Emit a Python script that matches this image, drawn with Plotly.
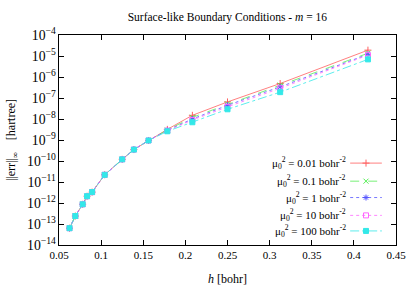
import plotly.graph_objects as go

h = [0.4167, 0.3125, 0.25, 0.2083, 0.1786, 0.1563, 0.1389, 0.125, 0.1042,
     0.0893, 0.0833, 0.0781, 0.0694, 0.0625]
common_tail = [9.5e-10, 3.5e-10, 1.2e-10, 2.2e-11, 3.3e-12, 2.1e-12, 8.7e-13, 2.4e-13, 6.3e-14]

err_001 = [1.9e-5, 4.9e-7, 6.5e-8, 1.5e-8, 3.2e-9] + common_tail
err_01 = [1.35e-5, 4.1e-7, 5.3e-8, 1.2e-8, 3.0e-9] + common_tail
err_1 = [1.2e-5, 3.4e-7, 4.5e-8, 1.0e-8, 2.9e-9] + common_tail
err_10 = [1.1e-5, 2.9e-7, 3.8e-8, 9.0e-9, 2.8e-9] + common_tail
err_100 = [6.9e-6, 1.9e-7, 2.9e-8, 7.0e-9, 2.6e-9] + common_tail

labels = ["0.01", "0.1", "1", "10", "100"]
series = [err_001, err_01, err_1, err_10, err_100]
colors = ["#ff6060", "#55ee55", "#5555ff", "#ff66ff", "#33e8e8"]
dashes = ["solid", "dash", "dot", "dot", "dashdot"]
symbols = ["cross-thin-open", "x-thin-open", "asterisk-open", "square-open", "square"]

FONT = "Liberation Serif"
fig = go.Figure()

for y, c, d, s in zip(series, colors, dashes, symbols):
    fig.add_trace(go.Scatter(
        x=h, y=y, mode="lines+markers",
        line=dict(color=c, width=0.8, dash=d),
        marker=dict(symbol=s, size=5, color=c, line=dict(color=c, width=1)),
        showlegend=False, xaxis="x", yaxis="y"))

# custom gnuplot-style key (text, then sample to its right)
key_y = [0.39, 0.304, 0.226, 0.141, 0.067]
for lab, c, d, s, ky in zip(labels, colors, dashes, symbols, key_y):
    fig.add_trace(go.Scatter(
        x=[0.864, 0.958], y=[ky, ky], mode="lines",
        line=dict(color=c, width=0.8, dash=d), showlegend=False,
        xaxis="x2", yaxis="y2", hoverinfo="skip"))
    fig.add_trace(go.Scatter(
        x=[0.911], y=[ky], mode="markers",
        marker=dict(symbol=s, size=5, color=c, line=dict(color=c, width=1)),
        showlegend=False, xaxis="x2", yaxis="y2", hoverinfo="skip"))
    fig.add_annotation(
        xref="x2", yref="y2", x=0.858, y=ky, xanchor="right", yanchor="middle",
        text="μ<sub>0</sub><sup>2</sup> = " + lab + " bohr<sup>-2</sup>",
        showarrow=False, font=dict(family=FONT, size=11, color="black"))

axis_common = dict(
    showline=True, linecolor="black", linewidth=1, mirror="allticks",
    ticks="inside", ticklen=5, tickcolor="black", showgrid=False, zeroline=False,
    automargin=False,
    tickfont=dict(family=FONT, size=11, color="black"))

fig.update_layout(
    width=415, height=291,
    font=dict(family=FONT, size=11, color="black"),
    margin=dict(l=59, r=19, t=35, b=46, autoexpand=False),
    paper_bgcolor="white", plot_bgcolor="white",
    title=dict(text="Surface-like Boundary Conditions - <i>m</i> = 16",
               x=0.548, xanchor="center", y=0.94, yanchor="middle",
               font=dict(family=FONT, size=11.5, color="black")),
    xaxis=dict(range=[0.05, 0.45], dtick=0.05, tick0=0.05,
               title=dict(text="<i>h</i> [bohr]", standoff=14,
                          font=dict(family=FONT, size=12, color="black")),
               **axis_common),
    yaxis=dict(type="log", range=[-14, -4], dtick=1, exponentformat="power",
               title=dict(text="||err||<sub>∞</sub>    [hartree]", standoff=8,
                          font=dict(family=FONT, size=12, color="black")),
               **axis_common),
    xaxis2=dict(overlaying="x", range=[0, 1], visible=False, anchor="y2"),
    yaxis2=dict(overlaying="y", range=[0, 1], visible=False, anchor="x2"),
    showlegend=False,
)

fig.write_html("out.html", config={"displayModeBar": False},
               post_script="document.body.style.margin='0';document.body.style.overflow='hidden';")
